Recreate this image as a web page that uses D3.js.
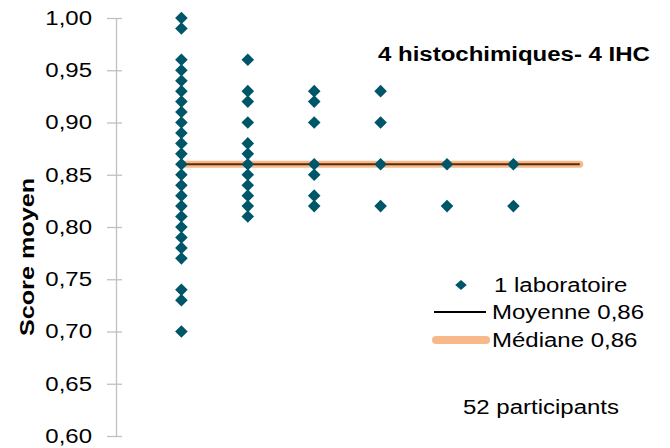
<!DOCTYPE html>
<html>
<head>
<meta charset="utf-8">
<script src="https://cdn.jsdelivr.net/npm/d3@7"></script>
<style>
  body { margin: 0; background: #fff; }
  text { font-family: "Liberation Sans", Arial, Helvetica, sans-serif; fill: #000; }
</style>
</head>
<body>
<script>
// one array per column of laboratories (score moyen)
const col1 = [1.00, 0.99, 0.96, 0.95, 0.94, 0.93, 0.92, 0.91, 0.90, 0.89, 0.88, 0.87, 0.86,
    0.85, 0.84, 0.83, 0.82, 0.81, 0.80, 0.79, 0.78, 0.77, 0.74, 0.73, 0.70];
const col2 = [0.96, 0.93, 0.92, 0.90, 0.88, 0.87, 0.86, 0.85, 0.84, 0.83, 0.82, 0.81];
const col3 = [0.93, 0.92, 0.90, 0.86, 0.85, 0.83, 0.82];
const col4 = [0.93, 0.90, 0.86, 0.82];
const col5 = [0.86, 0.82];
const col6 = [0.86, 0.82];
const columns = [col1, col2, col3, col4, col5, col6];

const moyenne = 0.86,
    mediane = 0.86;
const lineSpan = [1, 7];

const yTicks = [0.60, 0.65, 0.70, 0.75, 0.80, 0.85, 0.90, 0.95, 1.00];

const title = '4 histochimiques- 4 IHC',
    yTitle = 'Score moyen',
    participants = '52 participants';

const W = 670, H = 448;
const teal = '#005669',
    peach = '#F7B88A';
const fs = 19.5,
    wide = 1.23; // the reference text is drawn wider than Arial

// widen a text node horizontally, keeping its anchor
function stretch(sel, k) {
    sel.each(function() {
        const len = this.getComputedTextLength();
        d3.select(this)
            .attr('textLength', len * (k || wide))
            .attr('lengthAdjust', 'spacingAndGlyphs');
    });
}

const svg = d3.select('body').append('svg')
    .attr('width', W)
    .attr('height', H);

const x = d3.scaleLinear().domain([0, 8]).range([115, 115 + 8 * 66.4]);
const y = d3.scaleLinear().domain([0.6, 1.0]).range([436, 18]);

// y axis
const yAxis = svg.append('g')
    .attr('transform', `translate(${x(0) + 1}, 0)`)
    .call(d3.axisLeft(y)
        .tickValues(yTicks)
        .tickFormat(d => d3.format('.2f')(d).replace('.', ','))
        .tickSize(8)
        .tickSizeOuter(0)
        .tickPadding(16)
    );
yAxis.select('.domain').attr('stroke', '#c0c0c0').attr('stroke-width', 1.3);
yAxis.selectAll('.tick line')
    .attr('stroke', '#c0c0c0')
    .attr('stroke-width', 1.3)
    .attr('x2', 6)
    .attr('x1', -9);
yAxis.selectAll('.tick text')
    .attr('font-size', fs)
    .attr('fill', '#000')
    .style('font-family', '"Liberation Sans", Arial, sans-serif')
    .call(stretch);

svg.append('text')
    .attr('transform', 'translate(34, 257) rotate(-90)')
    .attr('text-anchor', 'middle')
    .attr('font-size', 21)
    .attr('font-weight', 'bold')
    .text(yTitle)
    .call(stretch, 1.2);

// median + mean lines
svg.append('line')
    .attr('x1', x(lineSpan[0])).attr('x2', x(lineSpan[1]))
    .attr('y1', y(mediane)).attr('y2', y(mediane))
    .attr('stroke', peach)
    .attr('stroke-width', 7)
    .attr('stroke-linecap', 'round');

svg.append('line')
    .attr('x1', x(lineSpan[0])).attr('x2', x(lineSpan[1]))
    .attr('y1', y(moyenne)).attr('y2', y(moyenne))
    .attr('stroke', '#5a2a0a')
    .attr('stroke-width', 2);

// points
const diamond = 'M0,-6.3L6.3,0L0,6.3L-6.3,0Z';
const pts = columns.flatMap((c, i) => c.map(v => ({ col: i + 1, v: v })));

svg.append('g').selectAll('path')
    .data(pts)
    .enter()
    .append('path')
    .attr('d', diamond)
    .attr('fill', teal)
    .attr('transform', d => `translate(${x(d.col)}, ${y(d.v)})`);

// title
svg.append('text')
    .attr('x', 378)
    .attr('y', 61)
    .attr('font-size', fs)
    .attr('font-weight', 'bold')
    .text(title)
    .call(stretch);

// legend
const lg = svg.append('g');
lg.append('path')
    .attr('d', 'M0,-5L5.8,0L0,5L-5.8,0Z')
    .attr('fill', teal)
    .attr('transform', 'translate(461, 285)');
lg.append('text').attr('x', 494).attr('y', 292).attr('font-size', fs)
    .text('1 laboratoire').call(stretch);

lg.append('line')
    .attr('x1', 434).attr('x2', 486).attr('y1', 312).attr('y2', 312)
    .attr('stroke', '#000').attr('stroke-width', 2);
lg.append('text').attr('x', 492).attr('y', 319).attr('font-size', fs)
    .text('Moyenne 0,86').call(stretch);

lg.append('line')
    .attr('x1', 436).attr('x2', 486).attr('y1', 340).attr('y2', 340)
    .attr('stroke', peach).attr('stroke-width', 8)
    .attr('stroke-linecap', 'round');
lg.append('text').attr('x', 492).attr('y', 347).attr('font-size', fs)
    .text('Médiane 0,86').call(stretch);

svg.append('text')
    .attr('x', 463)
    .attr('y', 414)
    .attr('font-size', fs)
    .text(participants)
    .call(stretch);
</script>
</body>
</html>
